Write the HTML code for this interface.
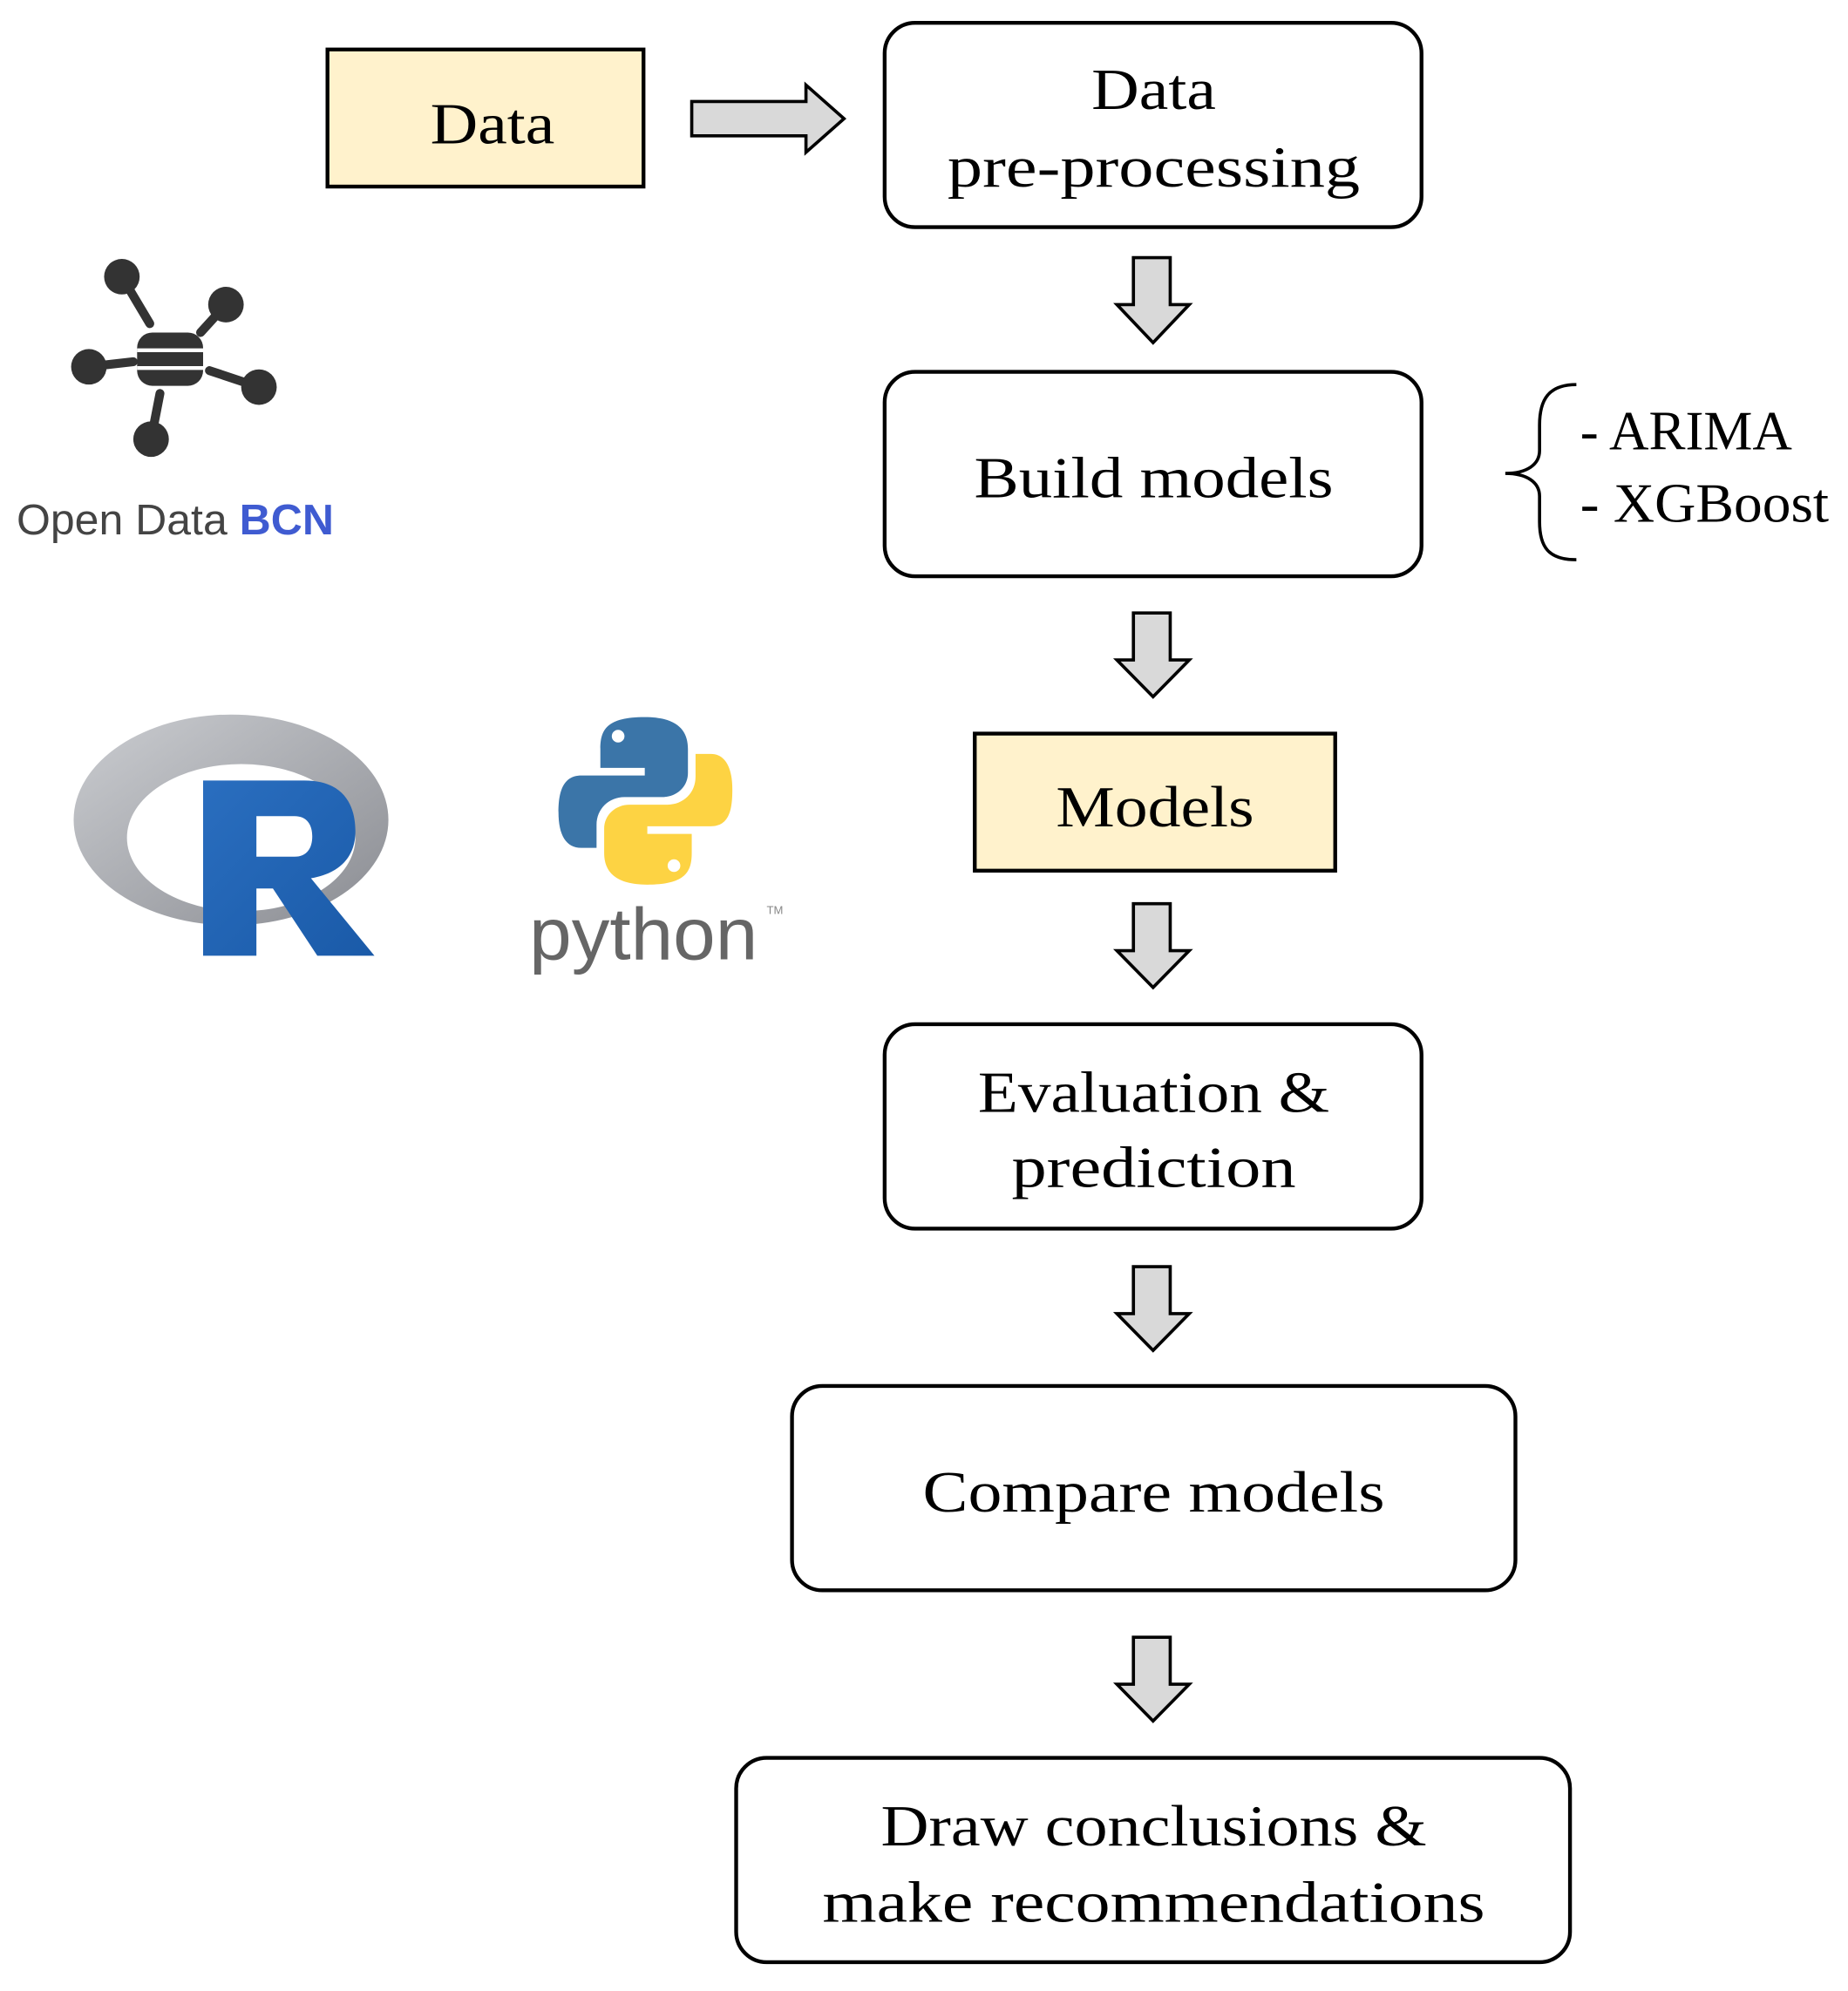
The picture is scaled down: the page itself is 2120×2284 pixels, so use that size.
<!DOCTYPE html>
<html><head><meta charset="utf-8"><style>
html,body{margin:0;padding:0;background:#fff;}
svg{display:block;}
text{font-family:"Liberation Serif",serif;fill:#000;}
</style></head><body>
<svg width="2120" height="2284" viewBox="0 0 1456 1568.7" xmlns="http://www.w3.org/2000/svg">
<g stroke="#000" stroke-width="3">
<rect x="258" y="39" width="249" height="108" fill="#fff2cc"/>
<rect x="697" y="18" width="423" height="161" rx="24" fill="#fff"/>
<rect x="697" y="293" width="423" height="161" rx="24" fill="#fff"/>
<rect x="768" y="578" width="284" height="108" fill="#fff2cc"/>
<rect x="697" y="807" width="423" height="161" rx="24" fill="#fff"/>
<rect x="624" y="1092" width="570" height="161" rx="24" fill="#fff"/>
<rect x="580" y="1385" width="657" height="161" rx="24" fill="#fff"/>
</g>
<g fill="#d9d9d9" stroke="#000" stroke-width="2.5" stroke-linejoin="miter">
<path d="M545,80 H635 V67 L665,93.5 L635,120 V107 H545 Z"/>
<path d="M893,203 H922 V240 H937 L908.5,270 L880,240 H893 Z"/>
<path d="M893,483 H922 V520 H937 L908.5,549 L880,520 H893 Z"/>
<path d="M893,712 H922 V749 H937 L908.5,778 L880,749 H893 Z"/>
<path d="M893,998 H922 V1035 H937 L908.5,1064 L880,1035 H893 Z"/>
<path d="M893,1290 H922 V1327 H937 L908.5,1356 L880,1327 H893 Z"/>
</g>
<path d="M1242,303 C1220,303 1213,315 1213,335 V355 C1213,366 1203,373 1186,373 C1203,373 1213,380 1213,391 V411 C1213,431 1220,441 1242,441" fill="none" stroke="#000" stroke-width="2.5"/>
<g font-size="46" text-anchor="middle">
<text x="388" y="113" textLength="98" lengthAdjust="spacingAndGlyphs">Data</text>
<text x="909" y="86" textLength="98" lengthAdjust="spacingAndGlyphs">Data</text>
<text x="909" y="147" textLength="325" lengthAdjust="spacingAndGlyphs">pre-processing</text>
<text x="909" y="392" textLength="283" lengthAdjust="spacingAndGlyphs">Build models</text>
<text x="910" y="651" textLength="156" lengthAdjust="spacingAndGlyphs">Models</text>
<text x="909" y="876" textLength="277" lengthAdjust="spacingAndGlyphs">Evaluation &amp;</text>
<text x="909" y="935" textLength="224" lengthAdjust="spacingAndGlyphs">prediction</text>
<text x="909" y="1191" textLength="364" lengthAdjust="spacingAndGlyphs">Compare models</text>
<text x="909" y="1454" textLength="430" lengthAdjust="spacingAndGlyphs">Draw conclusions &amp;</text>
<text x="909" y="1514" textLength="522" lengthAdjust="spacingAndGlyphs">make recommendations</text>
</g>
<g font-size="44">
<text x="1245" y="354" textLength="167" lengthAdjust="spacingAndGlyphs">- ARIMA</text>
<text x="1245" y="411" textLength="196" lengthAdjust="spacingAndGlyphs">- XGBoost</text>
</g>
<!-- Open Data BCN -->
<g stroke="#333" stroke-width="7" stroke-linecap="round">
<line x1="96" y1="218" x2="118" y2="255"/>
<line x1="178" y1="240" x2="158" y2="262"/>
<line x1="70" y1="289" x2="105" y2="285"/>
<line x1="204" y1="305" x2="165" y2="292"/>
<line x1="119" y1="346" x2="126" y2="310"/>
</g>
<g fill="#333">
<circle cx="96" cy="218" r="14"/><circle cx="178" cy="240" r="14"/>
<circle cx="70" cy="289" r="14"/><circle cx="204" cy="305" r="14"/>
<circle cx="119" cy="346" r="14"/>
<rect x="108" y="262" width="52" height="42" rx="12"/>
</g>
<g stroke="#fff" stroke-width="3"><line x1="108" y1="276" x2="160" y2="276"/><line x1="108" y1="290" x2="160" y2="290"/></g>
<text x="13" y="421" font-family="Liberation Sans,sans-serif" font-size="34" fill="#444" style="fill:#444;font-family:'Liberation Sans',sans-serif" textLength="250" lengthAdjust="spacingAndGlyphs">Open Data <tspan style="fill:#3f5bd1;font-weight:bold">BCN</tspan></text>
<!-- R logo -->
<defs>
<linearGradient id="rg" x1="0" y1="0" x2="1" y2="1"><stop offset="0" stop-color="#cbcdd1"/><stop offset="1" stop-color="#8a8c92"/></linearGradient>
<linearGradient id="rb" x1="0" y1="0" x2="1" y2="1"><stop offset="0" stop-color="#2a6ebf"/><stop offset="1" stop-color="#1a5aa8"/></linearGradient>
</defs>
<path fill-rule="evenodd" fill="url(#rg)" d="M58,646 A124,83 0 1,0 306,646 A124,83 0 1,0 58,646 Z M100,660 A90,58 0 1,0 280,660 A90,58 0 1,0 100,660 Z"/>
<path fill="url(#rb)" d="M160,615 H240 C275,615 280,640 280,655 C280,675 268,688 245,692 L295,753 H250 L215,700 H202 V753 H160 Z M202,643 V675 H232 C242,675 246,668 246,659 C246,650 242,643 232,643 Z"/>
<!-- Python logo -->
<path fill="#3b75a8" d="M508,565 C478,565 473,575 473,590 V605 H508 V611 H458 C443,611 440,625 440,640 C440,658 446,668 458,668 H470 V650 C470,637 480,628 492,628 H522 C533,628 542,620 542,609 V590 C542,575 533,565 508,565 Z"/>
<circle cx="487" cy="580" r="5" fill="#fff"/>
<path fill="#fdd343" d="M510,697 C540,697 545,687 545,672 V657 H510 V651 H560 C575,651 577,637 577,622 C577,604 571,594 560,594 H548 V612 C548,625 538,634 526,634 H496 C485,634 476,642 476,653 V672 C476,687 485,697 510,697 Z"/>
<circle cx="531" cy="682" r="5" fill="#fff"/>
<text x="417" y="756" font-size="58" style="font-family:'Liberation Sans',sans-serif;fill:#666" textLength="180" lengthAdjust="spacingAndGlyphs">python</text>
<text x="604" y="720" font-size="9" style="font-family:'Liberation Sans',sans-serif;fill:#888">TM</text>
</svg>
</body></html>
